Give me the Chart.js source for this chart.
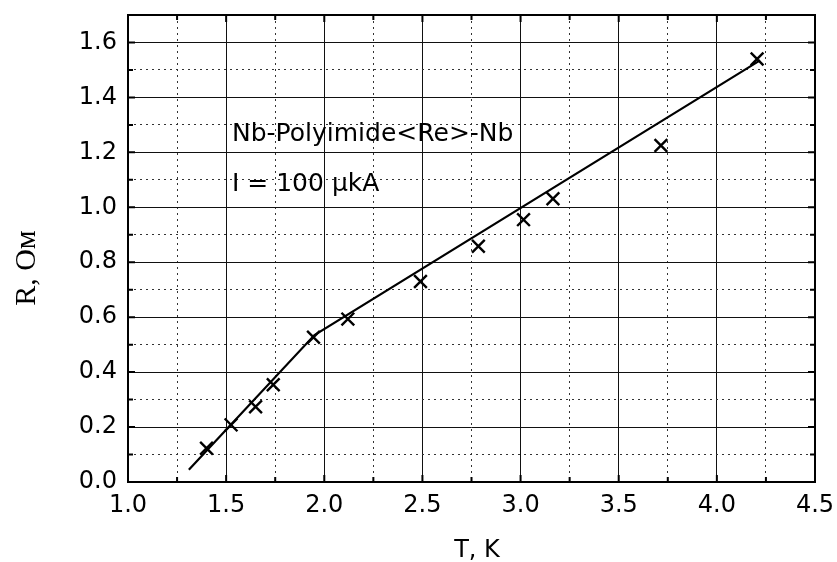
<!DOCTYPE html>
<html><head><meta charset="utf-8">
<script src="https://cdn.jsdelivr.net/npm/chart.js@4"></script>
<style>html,body{margin:0;padding:0;background:#fff}canvas{display:block}</style>
</head><body>
<canvas id="c" width="837" height="562"></canvas>
<script>
// ---- data ----
const temperatures = [1.40, 1.525, 1.65, 1.74, 1.945, 2.12, 2.49, 2.785, 3.015, 3.165, 3.715, 4.205];
const resistances  = [0.123, 0.208, 0.274, 0.354, 0.527, 0.593, 0.730, 0.858, 0.955, 1.031, 1.225, 1.540];
const fitT = [1.31, 1.95, 4.22];
const fitR = [0.045, 0.535, 1.535];

// ---- axes / ticks ----
const xMajorTicks = [1.0, 1.5, 2.0, 2.5, 3.0, 3.5, 4.0, 4.5];
const xMinorTicks = [1.25, 1.75, 2.25, 2.75, 3.25, 3.75, 4.25];
const yMajorTicks = [0.0, 0.2, 0.4, 0.6, 0.8, 1.0, 1.2, 1.4, 1.6];
const yMinorTicks = [0.1, 0.3, 0.5, 0.7, 0.9, 1.1, 1.3, 1.5];
const xRange = [1.0, 4.5];
const yRange = [0.0, 1.7];
const xTitle = 'T, K';
const yTitle = 'R, Ом';
const noteLines = ['Nb-Polyimide<Re>-Nb', 'I = 100 \u03bckA'];

const tickFont = {family: 'DejaVu Sans', size: 24};

const setTicks = vals => s => { s.ticks = vals.map(v => ({value: v})); };

const framePlugin = {
  id: 'frame',
  beforeDatasetsDraw(chart) {
    const {ctx, chartArea: a, scales} = chart;
    ctx.save();
    ctx.strokeStyle = '#000';
    ctx.lineWidth = 2;
    const tk = (vals, len) => {
      vals.forEach(v => {
        const px = scales.x.getPixelForValue(v);
        ctx.beginPath();
        ctx.moveTo(px, a.bottom); ctx.lineTo(px, a.bottom - len);
        ctx.moveTo(px, a.top); ctx.lineTo(px, a.top + len);
        ctx.stroke();
      });
    };
    const tky = (vals, len) => {
      vals.forEach(v => {
        const py = scales.y.getPixelForValue(v);
        ctx.beginPath();
        ctx.moveTo(a.left, py); ctx.lineTo(a.left + len, py);
        ctx.moveTo(a.right, py); ctx.lineTo(a.right - len, py);
        ctx.stroke();
      });
    };
    tk(xMajorTicks, 7); tk(xMinorTicks, 5);
    tky(yMajorTicks, 7); tky(yMinorTicks, 5);
    ctx.strokeRect(a.left, a.top, a.right - a.left, a.bottom - a.top);
    ctx.restore();
  },
  afterDraw(chart) {
    const {ctx} = chart;
    ctx.save();
    ctx.fillStyle = '#000';
    ctx.font = '25px "DejaVu Sans"';
    ctx.textAlign = 'left';
    ctx.textBaseline = 'alphabetic';
    ctx.fillText(noteLines[0], 232, 141);
    ctx.fillText(noteLines[1], 232, 191);
    ctx.font = '24px "DejaVu Sans"';
    ctx.textAlign = 'center';
    ctx.fillText(xTitle, 477, 557);
    ctx.translate(35, 268);
    ctx.rotate(-Math.PI / 2);
    ctx.font = '30px "Liberation Serif"';
    ctx.fillText(yTitle, 0, 0);
    ctx.restore();
  }
};

new Chart(document.getElementById('c'), {
  type: 'scatter',
  data: {
    datasets: [
      {
        label: 'fit',
        type: 'line',
        data: fitT.map((t, i) => ({x: t, y: fitR[i]})),
        borderColor: '#000',
        borderWidth: 2.2,
        pointRadius: 0,
        fill: false,
        tension: 0
      },
      {
        label: 'R(T)',
        data: temperatures.map((t, i) => ({x: t, y: resistances[i]})),
        pointStyle: 'crossRot',
        pointRadius: 9,
        borderColor: '#000',
        backgroundColor: '#000',
        pointBorderWidth: 2.4,
        showLine: false
      }
    ]
  },
  options: {
    responsive: false,
    animation: false,
    devicePixelRatio: 1,
    layout: {padding: {left: 0, right: 22, top: 15, bottom: 0}},
    plugins: {legend: {display: false}, tooltip: {enabled: false}},
    scales: {
      x: {
        type: 'linear', position: 'bottom', min: xRange[0], max: xRange[1],
        afterBuildTicks: setTicks(xMajorTicks),
        afterFit: s => { s.height = 80; s.paddingLeft = 0; s.paddingRight = 0; },
        ticks: {font: tickFont, color: '#000', padding: 9, callback: v => v.toFixed(1), autoSkip: false, maxRotation: 0},
        grid: {color: '#111', lineWidth: 1, drawTicks: false},
        border: {display: false}
      },
      xMinor: {
        type: 'linear', position: 'bottom', min: xRange[0], max: xRange[1],
        afterBuildTicks: setTicks(xMinorTicks),
        afterFit: s => { s.height = 0; s.paddingLeft = 0; s.paddingRight = 0; },
        ticks: {display: false},
        grid: {color: '#333', lineWidth: 1, drawTicks: false},
        border: {display: false, dash: [2, 4]}
      },
      y: {
        type: 'linear', position: 'left', min: yRange[0], max: yRange[1],
        afterBuildTicks: setTicks(yMajorTicks),
        afterFit: s => { s.width = 128; s.paddingTop = 0; s.paddingBottom = 0; },
        ticks: {font: tickFont, color: '#000', padding: 11, callback: v => v.toFixed(1), autoSkip: false},
        grid: {color: '#111', lineWidth: 1, drawTicks: false},
        border: {display: false}
      },
      yMinor: {
        type: 'linear', position: 'left', min: yRange[0], max: yRange[1],
        afterBuildTicks: setTicks(yMinorTicks),
        afterFit: s => { s.width = 0; s.paddingTop = 0; s.paddingBottom = 0; },
        ticks: {display: false},
        grid: {color: '#333', lineWidth: 1, drawTicks: false},
        border: {display: false, dash: [2, 4]}
      }
    }
  },
  plugins: [framePlugin]
});
</script>
</body></html>
